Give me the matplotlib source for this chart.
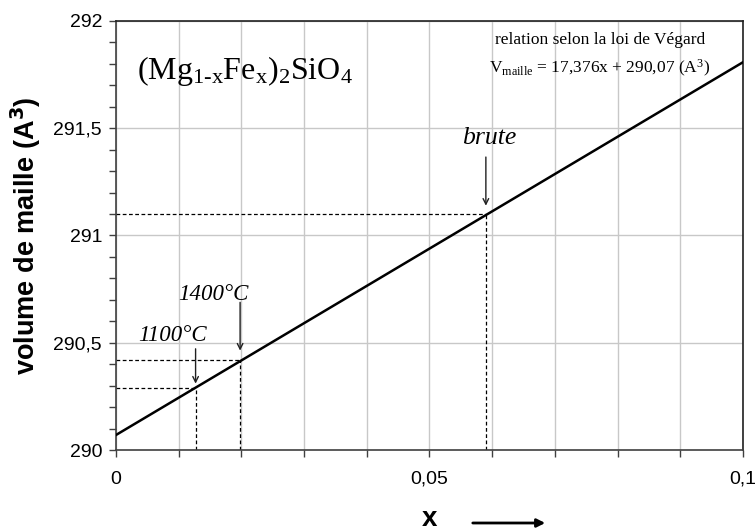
import matplotlib
matplotlib.use("Agg")
import matplotlib.pyplot as plt
from matplotlib.ticker import MultipleLocator, FuncFormatter

plt.rcParams['mathtext.fontset'] = 'custom'
plt.rcParams['mathtext.rm'] = 'Liberation Serif'
plt.rcParams['mathtext.it'] = 'Liberation Serif:italic'

# Vegard law line
slope = 17.376
intercept = 290.07
x_range = [0.0, 0.1]
v_range = [slope * x + intercept for x in x_range]

# samples
sample_names = ["1100°C", "1400°C", "brute"]
x_samples = [0.0127, 0.0198, 0.059]
v_samples = [290.29, 290.418, 291.10]

fig = plt.figure(figsize=(7.55, 5.31), dpi=100)
ax = fig.add_axes([0.1536, 0.1525, 0.8304, 0.808])

ax.set_xlim(0, 0.1)
ax.set_ylim(290, 292)

ax.xaxis.set_major_locator(MultipleLocator(0.05))
ax.xaxis.set_minor_locator(MultipleLocator(0.01))
ax.yaxis.set_major_locator(MultipleLocator(0.5))
ax.yaxis.set_minor_locator(MultipleLocator(0.1))

def fmt(v, pos):
    s = ('%.2f' % v).rstrip('0').rstrip('.')
    return s.replace('.', ',')
ax.xaxis.set_major_formatter(FuncFormatter(fmt))
ax.yaxis.set_major_formatter(FuncFormatter(fmt))

ax.grid(True, which='major', axis='y', color='#c8c8c8', lw=1)
ax.grid(True, which='both', axis='x', color='#c8c8c8', lw=1)
ax.set_axisbelow(True)

ax.tick_params(axis='both', which='major', direction='out', length=5, width=1,
               labelsize=14, color='#404040')
ax.tick_params(axis='x', which='major', pad=10)
ax.tick_params(axis='y', which='major', pad=5)
ax.tick_params(axis='x', which='minor', direction='out', length=5, width=1, color='#404040')
ax.tick_params(axis='y', which='minor', direction='out', length=5, width=1, color='#404040')
for lab in ax.get_xticklabels() + ax.get_yticklabels():
    lab.set_fontfamily('Liberation Sans')

for s in ['left', 'bottom']:
    ax.spines[s].set_color('#404040')
    ax.spines[s].set_linewidth(1.2)
for s in ['top', 'right']:
    ax.spines[s].set_color('#202020')
    ax.spines[s].set_linewidth(1.2)

ax.plot(x_range, v_range, color='black', lw=1.8, zorder=3)

for name, xs, vs in zip(sample_names, x_samples, v_samples):
    ax.plot([0, xs], [vs, vs], color='black', lw=0.9, ls=(0, (3, 2)), zorder=2)
    ax.plot([xs, xs], [290, vs], color='black', lw=0.9, ls=(0, (3, 2)), zorder=2)

arrow_off = {"brute": (57, 6), "1400°C": (58, 7), "1100°C": (39, 3)}
text_off = {"brute": (3, 76), "1400°C": (-27, 66), "1100°C": (-23, 52)}
text_size = {"brute": 18.5, "1400°C": 16.5, "1100°C": 16.5}
for name, xs, vs in zip(sample_names, x_samples, v_samples):
    tail, head = arrow_off[name]
    ax.annotate('', xy=(xs, vs), xytext=(0, tail), textcoords='offset pixels',
                arrowprops=dict(arrowstyle='->', color='#202020', lw=1.0,
                                shrinkA=0, shrinkB=head))
    tx, ty = text_off[name]
    ax.annotate(name, xy=(xs, vs), xytext=(tx, ty), textcoords='offset pixels',
                ha='center', va='center', fontsize=text_size[name], fontstyle='italic',
                fontfamily='Liberation Serif')

fig.text(245 / 755, 1 - 71 / 531,
         r'$\mathrm{(Mg_{1\text{-}x}Fe_x)_2SiO_4}$', ha='center', va='center',
         fontsize=23)
fig.text(600 / 755, 1 - 40 / 531, 'relation selon la loi de Végard',
         ha='center', va='center', fontsize=12.5, fontfamily='Liberation Serif')
fig.text(600 / 755, 1 - 68 / 531,
         r'$\mathrm{V_{maille}}$ = 17,376x + 290,07 (A$\mathrm{^3}$)',
         ha='center', va='center', fontsize=12.5, fontfamily='Liberation Serif')

fig.text(26 / 755, 1 - 236 / 531, r'volume de maille (A$\mathbf{^3}$)', rotation=90,
         ha='center', va='center', fontsize=19.5, fontweight='bold',
         fontfamily='Liberation Sans')
fig.text(429 / 755, 1 - 519 / 531, 'x', ha='center', va='center', fontsize=20,
         fontweight='bold', fontfamily='Liberation Sans')
fig.add_artist(matplotlib.patches.FancyArrowPatch(
    (470 / 755, 1 - 523 / 531), (548 / 755, 1 - 523 / 531),
    transform=fig.transFigure, arrowstyle='-|>', mutation_scale=12,
    color='black', lw=2))

fig.savefig('out.png', dpi=100)
